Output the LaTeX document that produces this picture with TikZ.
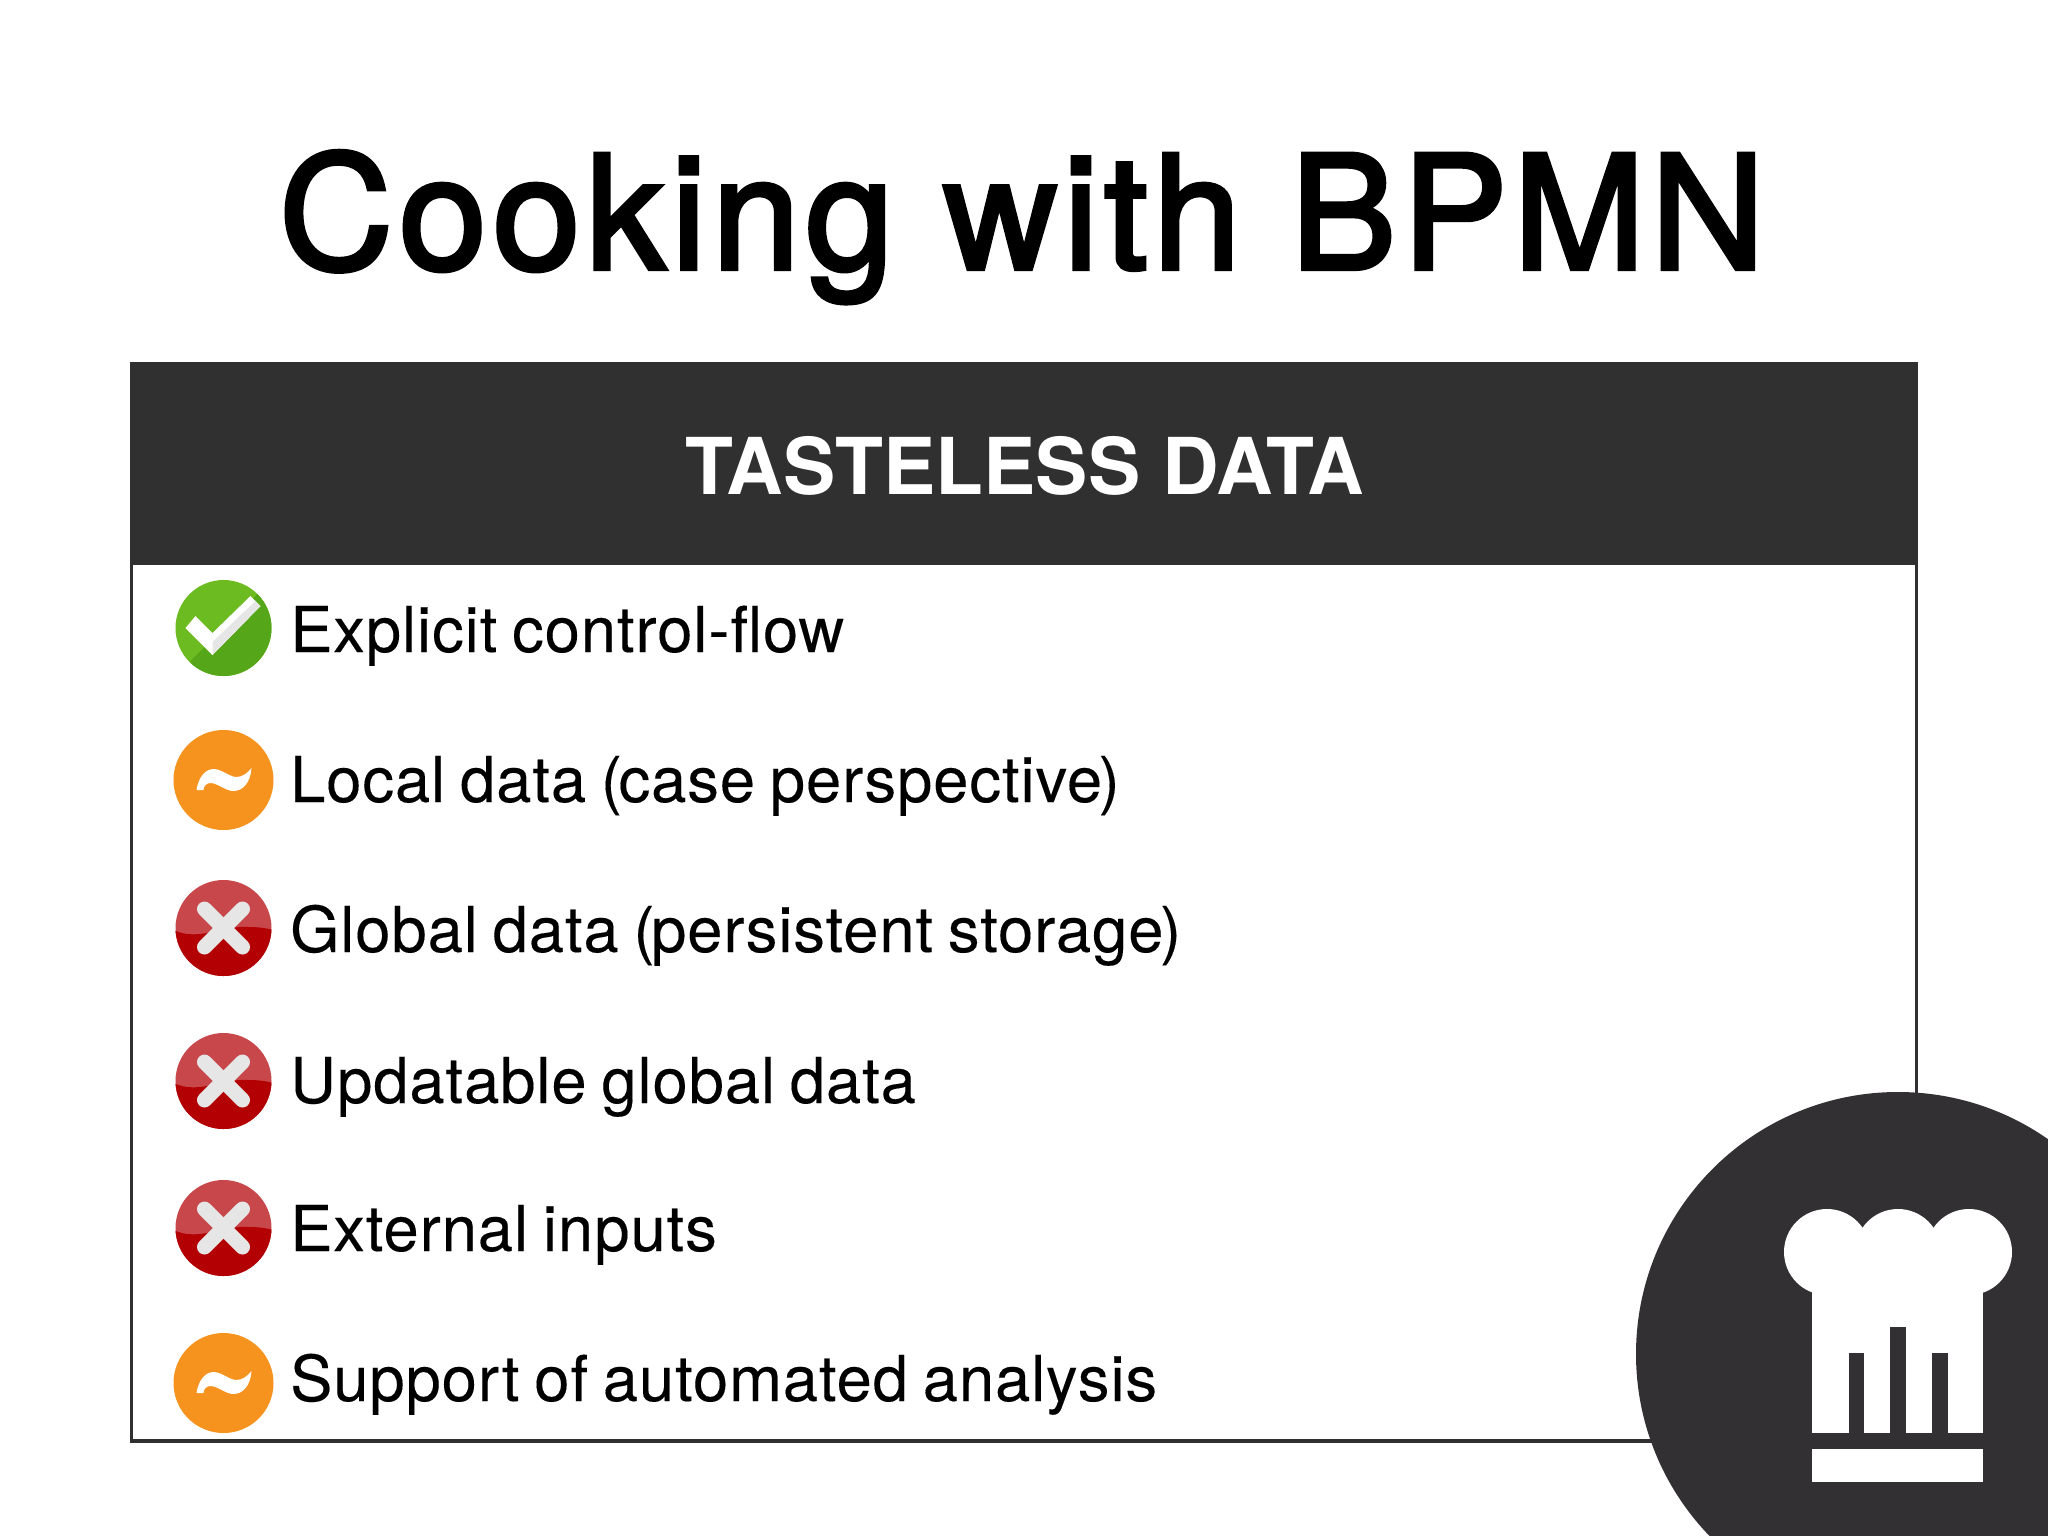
\documentclass[tikz,border=0pt]{standalone}
\usepackage{fontspec}
\setmainfont{TeX Gyre Heros}
\newfontfamily\titlefont[FakeBold=2.6,LetterSpace=3.6]{TeX Gyre Heros}
\newfontfamily\rowfont[WordSpace=0.8,LetterSpace=1.5,FakeBold=0.2]{TeX Gyre Heros}
\usetikzlibrary{positioning}
\definecolor{darkbar}{HTML}{303031}
\definecolor{chefdark}{HTML}{323033}
\definecolor{tickdark}{HTML}{55A618}
\definecolor{ticklight}{HTML}{6CBB20}
\definecolor{warnfill}{HTML}{F6931E}
\definecolor{crossdark}{HTML}{B30003}
\definecolor{crosslight}{HTML}{C8474B}
\definecolor{signgrey}{HTML}{E6E6E6}
\newcommand{\lpar}{(\kern-1pt}
\newcommand{\rpar}{\kern-1pt)}
\tikzset{%
	rowtext/.style  = {anchor=base west, inner sep=0pt, font=\rowfont\fontsize{18}{22}\selectfont},
	ticksign/.pic   = {
		\begin{scope}
		\clip (0,0) circle (48);
		\fill[ticklight] (-50,-50) rectangle (50,50);
		\fill[tickdark] (-33,33) -- (37,-37) -- (50,-37) -- (50,50) -- (-33,50) -- cycle;
		\end{scope}
		\fill[white] (-38,0) -- (-28,-12) -- (-11,5) -- (27,-32) -- (37,-22) -- (-11,27) -- cycle;
		\fill[signgrey] (-11,14) -- (32,-27) -- (37,-22) -- (-11,27) -- cycle;
	},
	warnsign/.pic   = {
		\fill[warnfill] (0,0) circle (50);
		\fill[white] (-27,10) .. controls (-25,-3) and (-18,-11) .. (-10,-11) .. controls (-2,-11) and (6,-3) .. (13,-3) .. controls (19,-3) and (24,-7) .. (28,-12) .. controls (27,3) and (19,11) .. (10,11) .. controls (2,11) and (-6,3) .. (-13,3) .. controls (-17,3) and (-20,6) .. (-20,10) -- cycle;
	},
	crosssign/.pic  = {
		\begin{scope}
		\clip (0,0) circle (48);
		\fill[crosslight] (-50,-50) rectangle (50,50);
		\fill[crossdark] (-50,2) .. controls (-25,14) and (0,-3) .. (25,-1) .. controls (35,-1) and (42,0) .. (50,2) -- (50,50) -- (-50,50) -- cycle;
		\end{scope}
		\draw[signgrey, line width=0.15cm, line cap=round] (-19,-19) -- (19,19);
		\draw[signgrey, line width=0.15cm, line cap=round] (19,-19) -- (-19,19);
	},
}

\begin{document}
\begin{tikzpicture}[x=0.01cm,y=-0.01cm]
	\clip (0,0) rectangle (2048,1536);
	\fill[white] (0,0) rectangle (2048,1536);
	
	\node[anchor=base, inner sep=0pt, font=\titlefont\fontsize{45}{54}\selectfont] (title) at (1022,269) {Cooking with BPMN};
	
	\draw[darkbar, line width=0.035cm] (131.5,364) rectangle (1916.5,1441);  % table frame
	\fill[darkbar] (130,363) rectangle (1918,565);
	\node[anchor=base, inner sep=0pt, text=white, font=\fontsize{22.3}{26}\bfseries\selectfont] (header) at (1025,494) {TASTELESS DATA};
	
	\foreach \n/\y/\b/\kind/\txt in {%
		a/628/652/ticksign/Explicit control-flow,
		b/780/802/warnsign/Local data \lpar case perspective\rpar,
		c/928/952/crosssign/Global data \lpar persistent storage\rpar,
		d/1081/1103/crosssign/Updatable global data,
		e/1228/1251/crosssign/External inputs,
		f/1383/1401/warnsign/Support of automated analysis}
	{
		\pic at (223.5,\y) {\kind};
		\node[rowtext] (row\n) at (289.5,\b) {\txt};
	}
	
	% chef badge
	\fill[chefdark] (1898,1354) circle (262);
	\fill[white] (1827,1252) circle (43);
	\fill[white] (1898,1252) circle (43);
	\fill[white] (1969,1252) circle (43);
	\fill[white] (1812,1250) rectangle (1983,1433);
	\fill[chefdark] (1849,1353) rectangle (1864,1433);
	\fill[chefdark] (1890,1327) rectangle (1906,1433);
	\fill[chefdark] (1932,1353) rectangle (1948,1433);
	\fill[white] (1812,1449) rectangle (1983,1482);
	
\end{tikzpicture}
\end{document}
